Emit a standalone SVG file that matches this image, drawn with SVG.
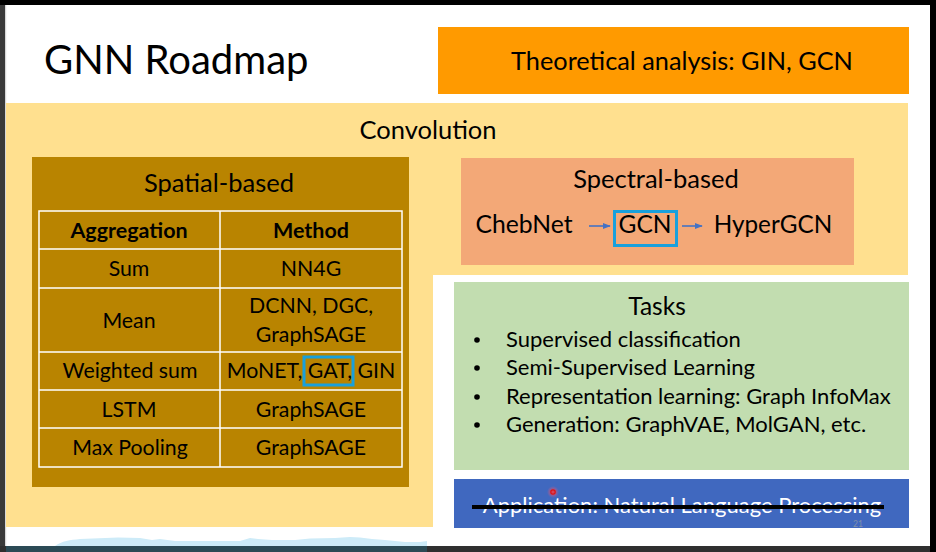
<svg xmlns="http://www.w3.org/2000/svg" width="936" height="552" viewBox="0 0 936 552">
  <defs>
    <style>
      text { font-family: Lato, "Liberation Sans", sans-serif; fill: #000; }
      .c { text-anchor: middle; }
      .cell { font-size: 21.3px; text-anchor: middle; }
      .head { font-size: 21.5px; font-weight: bold; text-anchor: middle; }
      .grid { stroke: #ffffff; stroke-width: 1.5; fill: none; }
      .hl { fill: none; stroke: #18A0DC; stroke-width: 3; }
      .task { font-size: 22px; }
      .big { font-size: 25.5px; }
      .arrow { stroke: #4472C4; stroke-width: 1.6; fill: none; marker-end: url(#head); }
    </style>
    <marker id="head" viewBox="0 0 10 10" refX="9" refY="5" markerWidth="5" markerHeight="5" orient="auto" markerUnits="strokeWidth">
      <path d="M0,1 L10,5 L0,9 Z" fill="#4472C4"/>
    </marker>
    <radialGradient id="glow">
      <stop offset="0" stop-color="#ff3030" stop-opacity="0.9"/>
      <stop offset="1" stop-color="#ff6080" stop-opacity="0"/>
    </radialGradient>
  </defs>

  <!-- window frame around the slide -->
  <rect x="0" y="0" width="936" height="552" fill="#2f2f2f"/>
  <rect x="0" y="0" width="936" height="5" fill="#000"/>
  <rect x="930" y="0" width="6" height="552" fill="#000"/>
  <rect x="6" y="5" width="924" height="541" fill="#ffffff"/>
  <rect x="5" y="5" width="1.2" height="541" fill="#d8d8d8"/>
  <rect x="0" y="5" width="5" height="541" fill="#3a3a3a"/>

  <!-- strip along the bottom-left edge -->
  <rect x="6" y="546" width="421" height="6" fill="#2B4A55"/>
  <path d="M55,546 C62,541 70,540 80,539 L118,537.5 L140,538 L152,540 L160,539 L175,541 L200,541 L240,541 L250,538 L258,539 L272,540 L295,540 L310,538.5 L335,538 L350,537 L360,537.5 L372,539 L385,540 L395,541 L405,542 L420,542 L427,541 L427,546 Z" fill="#CDEBF8"/>

  <!-- slide title -->
  <g id="title">
    <text x="44" y="74" font-size="40">GNN Roadmap</text>
  </g>

  <g id="theory">
    <rect x="438" y="27" width="471" height="67" fill="#FF9A00"/>
    <text x="682" y="70" font-size="25.3" class="c">Theoretical analysis: GIN, GCN</text>
  </g>

  <g id="convolution">
    <rect x="6" y="103" width="902" height="172" fill="#FFE08F"/>
    <rect x="6" y="275" width="427" height="252" fill="#FFE08F"/>
    <text x="428" y="139" class="c big">Convolution</text>
  </g>

  <g id="spatial">
    <rect x="32" y="157" width="377" height="330" fill="#B98400"/>
    <text x="219" y="192" class="c big">Spatial-based</text>
    <!-- aggregation table -->
    <rect class="grid" x="39" y="211" width="363" height="256"/>
    <path class="grid" d="M220,211 V467 M39,249 H402 M39,288 H402 M39,352 H402 M39,390 H402 M39,428 H402"/>
    <text class="head" x="129" y="238">Aggregation</text>
    <text class="head" x="311" y="238">Method</text>
    <text class="cell" x="129" y="276">Sum</text>
    <text class="cell" x="311" y="276">NN4G</text>
    <text class="cell" x="129" y="328">Mean</text>
    <text class="cell" x="311" y="313">DCNN, DGC,</text>
    <text class="cell" x="311" y="342">GraphSAGE</text>
    <text class="cell" x="130" y="378">Weighted sum</text>
    <text class="cell" x="311" y="378">MoNET, GAT, GIN</text>
    <rect class="hl" x="304" y="357" width="49" height="28" stroke-width="2.5"/>
    <text class="cell" x="129" y="417">LSTM</text>
    <text class="cell" x="311" y="417">GraphSAGE</text>
    <text class="cell" x="130" y="455">Max Pooling</text>
    <text class="cell" x="311" y="455">GraphSAGE</text>
  </g>

  <g id="spectral">
    <rect x="461" y="158" width="393" height="107" fill="#F3A877"/>
    <text x="656" y="188" class="c big">Spectral-based</text>
  </g>

  <g id="chebnet">
    <text x="524" y="233" font-size="24.7" class="c">ChebNet</text>
  </g>

  <g id="gcn">
    <rect class="hl" x="614.5" y="211.5" width="62" height="34"/>
    <text x="645" y="233" font-size="24.5" class="c">GCN</text>
  </g>

  <g id="hypergcn">
    <text x="773" y="233" font-size="24.3" class="c">HyperGCN</text>
  </g>

  <g id="connectors">
    <line class="arrow" x1="589" y1="226" x2="610" y2="226"/>
    <line class="arrow" x1="682" y1="226" x2="702" y2="226"/>
  </g>

  <g id="tasks">
    <rect x="454" y="282" width="455" height="188" fill="#C2DDB0"/>
    <text x="657" y="315" font-size="24.5" class="c">Tasks</text>
    <circle cx="477" cy="340" r="2.8" fill="#000"/>
    <circle cx="477" cy="368" r="2.8" fill="#000"/>
    <circle cx="477" cy="397" r="2.8" fill="#000"/>
    <circle cx="477" cy="425" r="2.8" fill="#000"/>
    <text class="task" x="506" y="347">Supervised classification</text>
    <text class="task" x="506" y="375">Semi-Supervised Learning</text>
    <text class="task" x="506" y="404">Representation learning: Graph InfoMax</text>
    <text class="task" x="506" y="432">Generation: GraphVAE, MolGAN, etc.</text>
  </g>

  <g id="application">
    <rect x="454" y="479" width="455" height="49" fill="#4068BF"/>
    <text x="682" y="513" font-size="22" class="c" style="fill:#ffffff">Application: Natural Language Processing</text>
    <line x1="472" y1="507" x2="884" y2="507" stroke="#000" stroke-width="4"/>
    <text x="858" y="526.5" font-size="8.5" class="c" style="fill:#8090AA">21</text>
  </g>

  <!-- pointer mark -->
  <circle cx="553" cy="492" r="6" fill="url(#glow)"/>
  <circle cx="553" cy="492" r="2.2" fill="none" stroke="#e01010" stroke-width="1.2"/>
</svg>
